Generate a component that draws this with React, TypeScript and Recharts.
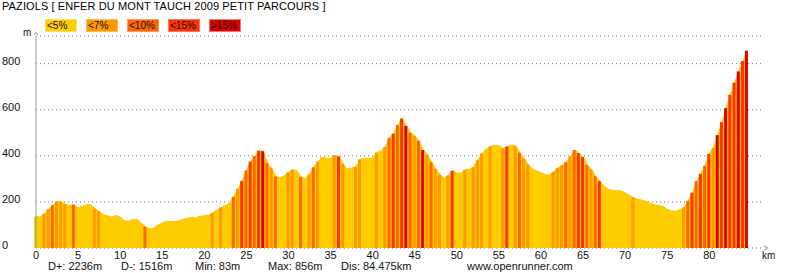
import { ComposedChart, Area, Bar, Cell, XAxis, YAxis, CartesianGrid } from "recharts";

// elevation sampled every 0.5 km, last sample at the finish
const STEP_KM = 0.5;
const TOTAL_KM = 84.475;

const ELEVATION = [
  136, 134, 148, 169, 185, 202, 200, 190, 184, 188,
  174, 181, 188, 188, 171, 158, 145, 140, 134, 141,
  134, 118, 116, 122, 124, 107, 92, 84, 86, 100,
  108, 116, 115, 114, 118, 124, 129, 133, 130, 137,
  140, 141, 152, 164, 176, 184, 192, 222, 257, 291,
  336, 374, 399, 422, 420, 368, 347, 310, 303, 313,
  328, 340, 335, 308, 300, 320, 350, 374, 394, 390,
  388, 402, 398, 364, 343, 347, 352, 384, 388, 388,
  391, 414, 421, 438, 478, 496, 534, 562, 530, 500,
  487, 465, 425, 405, 372, 343, 318, 303, 315, 335,
  326, 325, 339, 341, 351, 381, 410, 429, 441, 446,
  443, 432, 440, 446, 442, 414, 388, 362, 342, 334,
  326, 319, 316, 330, 347, 358, 372, 397, 425, 412,
  395, 360, 341, 311, 290, 268, 256, 250, 249, 248,
  239, 229, 219, 212, 207, 202, 194, 187, 184, 180,
  168, 161, 159, 166, 175, 205, 240, 290, 322, 357,
  408, 434, 490, 546, 607, 665, 717, 766, 811,
  856,
];

// 0: <5%  1: <7%  2: <10%  3: <15%  4: >15%
const SLOPE_CLASS = [
  0, 0, 1, 1, 2, 1, 1, 1, 0, 2,
  0, 0, 0, 0, 1, 1, 0, 0, 0, 0,
  0, 0, 0, 0, 0, 0, 2, 0, 0, 0,
  0, 0, 0, 0, 0, 0, 0, 0, 0, 0,
  0, 0, 1, 0, 1, 0, 0, 2, 1, 3,
  2, 3, 2, 3, 4, 2, 1, 2, 0, 0,
  1, 1, 0, 2, 0, 1, 2, 1, 0, 0,
  0, 1, 3, 1, 0, 0, 1, 1, 0, 0,
  0, 1, 0, 1, 2, 3, 2, 3, 4, 2,
  1, 2, 4, 1, 2, 1, 1, 0, 1, 3,
  0, 0, 1, 0, 1, 1, 1, 0, 1, 0,
  0, 1, 3, 0, 1, 2, 1, 1, 0, 0,
  0, 0, 0, 1, 1, 1, 2, 1, 2, 3,
  3, 2, 1, 2, 3, 0, 0, 0, 0, 0,
  0, 0, 1, 0, 0, 0, 0, 0, 0, 0,
  0, 0, 0, 0, 1, 2, 3, 2, 3, 2,
  3, 1, 4, 3, 4, 3, 3, 4, 3,
  4,
];

const SLOPE_COLORS = ["#FFCC00", "#FF9900", "#FF6600", "#FF3300", "#DD0000"];
const SLOPE_BORDERS = ["#FFE070", "#FFBB55", "#FF9966", "#FF7766", "#EE7777"];
const LEGEND_LABELS = ["<5%", "<7%", "<10%", "<15%", ">15%"];

const KM_TICKS = [0, 5, 10, 15, 20, 25, 30, 35, 40, 45, 50, 55, 60, 65, 70, 75, 80];
const M_TICKS = [0, 200, 400, 600, 800];

const TITLE = "PAZIOLS [ ENFER DU MONT TAUCH 2009 PETIT PARCOURS ]";
const STATS = ["D+: 2236m", "D-: 1516m", "Min: 83m", "Max: 856m", "Dis: 84.475km", "www.openrunner.com"];
const STATS_X = [48, 121, 195, 268, 341, 467];

const FONT = "'Liberation Sans', Arial, sans-serif";

const data = ELEVATION.map((elev, i) => ({
  km: i === ELEVATION.length - 1 ? TOTAL_KM : i * STEP_KM,
  elev,
  cls: SLOPE_CLASS[i],
}));

const YTick = (props: any) => (
  <text x={2} y={props.y + 1} textAnchor="start" fontSize={11} fontFamily={FONT} fill="#111">
    {props.payload.value}
  </text>
);

const XTick = (props: any) => (
  <text x={props.x} y={259} textAnchor="middle" fontSize={11} fontFamily={FONT} fill="#111">
    {props.payload.value}
  </text>
);

export default function App() {
  return (
    <div style={{ position: "absolute", left: 0, top: 0, width: 800, height: 273, background: "#fff", fontFamily: FONT }}>
      <div style={{ position: "absolute", left: 2, top: 0, fontSize: 11, lineHeight: "12px", color: "#000", whiteSpace: "nowrap", letterSpacing: 0.1 }}>
        {TITLE}
      </div>
      {LEGEND_LABELS.map((lab, i) => (
        <div
          key={lab}
          style={{
            position: "absolute",
            left: 45 + i * 41,
            top: 19,
            width: 32,
            height: 13,
            background: SLOPE_COLORS[i],
            border: `1px solid ${SLOPE_BORDERS[i]}`,
            fontSize: 10,
            lineHeight: "12px",
            paddingLeft: 1,
            boxSizing: "border-box",
            color: "#111",
          }}
        >
          {lab}
        </div>
      ))}
      <div style={{ position: "absolute", left: 23, top: 27, fontSize: 10, color: "#111" }}>m</div>
      <div style={{ position: "absolute", left: 762, top: 250, fontSize: 10, color: "#111" }}>km</div>
      <svg width={800} height={273} style={{ position: "absolute", left: 0, top: 0, pointerEvents: "none" }}>
        <polyline points="34,35 36,32.5 38,35" fill="none" stroke="#888" strokeWidth={1} />
        <polyline points="764,245.5 767.5,248 764,250.5" fill="none" stroke="#888" strokeWidth={1} />
      </svg>
      <div style={{ position: "absolute", left: 0, top: 0 }}>
        <ComposedChart width={800} height={273} data={data} margin={{ top: 36, right: 36, bottom: 5, left: 0 }}>
          <CartesianGrid vertical={false} stroke="#777" strokeDasharray="1 3" />
          <XAxis
            dataKey="km"
            type="number"
            domain={[0, 86.5]}
            ticks={KM_TICKS}
            axisLine={false}
            tickLine={false}
            height={20}
            tick={<XTick />}
            interval={0}
          />
          <YAxis
            type="number"
            domain={[0, 920]}
            ticks={M_TICKS}
            width={36}
            axisLine={{ stroke: "#999" }}
            tickLine={false}
            tick={<YTick />}
            interval={0}
          />
          <Area
            type="linear"
            dataKey="elev"
            fill="#FFCC00"
            fillOpacity={1}
            stroke="#FFC400"
            strokeWidth={1}
            isAnimationActive={false}
          />
          <Bar dataKey="elev" barSize={3} isAnimationActive={false}>
            {data.map((d, i) => (
              <Cell key={i} fill={SLOPE_COLORS[d.cls]} />
            ))}
          </Bar>
        </ComposedChart>
      </div>
      {STATS.map((s, i) => (
        <div key={s} style={{ position: "absolute", left: STATS_X[i], top: 260, fontSize: 11, lineHeight: "12px", color: "#111", whiteSpace: "nowrap" }}>
          {s}
        </div>
      ))}
    </div>
  );
}
